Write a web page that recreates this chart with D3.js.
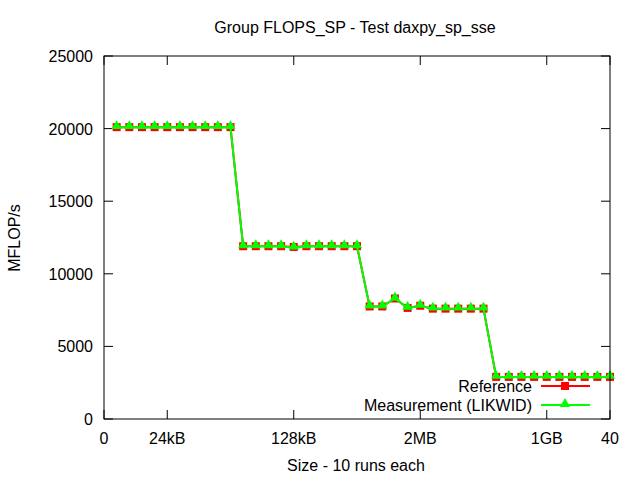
<!DOCTYPE html>
<html><head><meta charset="utf-8">
<script src="https://cdn.jsdelivr.net/npm/d3@7"></script>
<style>body{margin:0;background:#fff}svg{display:block}text{font-family:"Liberation Sans",Arial,sans-serif;font-size:16px;fill:#000}</style>
</head><body>
<script>
const sizes = d3.range(1, 41);
const reference = [20100,20100,20100,20100,20100,20100,20100,20100,20100,20100,
  11900,11900,11900,11900,11850,11900,11900,11900,11900,11900,
  7750,7750,8300,7650,7800,7600,7600,7600,7600,7600,
  2900,2900,2900,2900,2900,2900,2900,2900,2900,2900];
const measurement = [20100,20100,20100,20100,20100,20100,20100,20100,20100,20100,
  11900,11900,11900,11900,11800,11900,11900,11900,11900,11900,
  7750,7750,8300,7650,7800,7600,7600,7600,7600,7600,
  2900,2900,2900,2900,2900,2900,2900,2900,2900,2900];
const xTickVals = [0,5,15,25,35,40];
const xTickLabels = ["0","24kB","128kB","2MB","1GB","40"];
const yTickVals = [0,5000,10000,15000,20000,25000];

const W=640,H=480, L=104, R=610, T=56, B=419;
const svg=d3.select("body").append("svg").attr("width",W).attr("height",H);
const x=d3.scaleLinear().domain([0,40]).range([L,R]);
const y=d3.scaleLinear().domain([0,25000]).range([B,T]);
const tl=9;
const g=svg.append("g").attr("stroke","#000").attr("stroke-width",1);
yTickVals.forEach(v=>{
  g.append("line").attr("x1",L).attr("x2",L+tl).attr("y1",y(v)).attr("y2",y(v));
  g.append("line").attr("x1",R).attr("x2",R-tl).attr("y1",y(v)).attr("y2",y(v));
});
xTickVals.forEach(v=>{
  g.append("line").attr("x1",x(v)).attr("x2",x(v)).attr("y1",B).attr("y2",B-tl);
  g.append("line").attr("x1",x(v)).attr("x2",x(v)).attr("y1",T).attr("y2",T+tl);
});
svg.selectAll(".yl").data(yTickVals).join("text").attr("x",L-11).attr("y",d=>y(d)+6)
  .attr("text-anchor","end").text(d=>d);
svg.selectAll(".xl").data(xTickVals).join("text").attr("x",d=>x(d)).attr("y",B+25)
  .attr("text-anchor","middle").text((d,i)=>xTickLabels[i]);
svg.append("text").attr("x",355).attr("y",33).attr("text-anchor","middle").text("Group FLOPS_SP - Test daxpy_sp_sse");
svg.append("text").attr("x",356).attr("y",471).attr("text-anchor","middle").text("Size - 10 runs each");
svg.append("text").attr("transform","translate(20,238) rotate(-90)").attr("text-anchor","middle").text("MFLOP/s");

const line=d3.line().x((d,i)=>x(sizes[i])).y(d=>y(d));
svg.append("path").datum(reference).attr("d",line).attr("fill","none").attr("stroke","#ff0000").attr("stroke-width",2);
svg.selectAll(".sq").data(reference).join("rect").attr("x",(d,i)=>x(sizes[i])-4).attr("y",d=>y(d)-4)
  .attr("width",8).attr("height",8).attr("fill","#ff0000");
svg.append("path").datum(measurement).attr("d",line).attr("fill","none").attr("stroke","#00ff00").attr("stroke-width",2);
const tri=d3.symbol().type(d3.symbolTriangle).size(45);
svg.selectAll(".tr").data(measurement).join("path").attr("d",tri)
  .attr("transform",(d,i)=>`translate(${x(sizes[i])},${y(d)-1})`).attr("fill","#00ff00");

const lg=[{n:"Reference",c:"#ff0000",m:"sq",yy:386},{n:"Measurement (LIKWID)",c:"#00ff00",m:"tr",yy:405}];
lg.forEach(e=>{
  svg.append("text").attr("x",532).attr("y",e.yy+6).attr("text-anchor","end").text(e.n);
  svg.append("line").attr("x1",541).attr("x2",590).attr("y1",e.yy).attr("y2",e.yy).attr("stroke",e.c).attr("stroke-width",2);
  if(e.m==="sq") svg.append("rect").attr("x",561).attr("y",e.yy-4).attr("width",8).attr("height",8).attr("fill",e.c);
  else svg.append("path").attr("d",tri).attr("transform",`translate(565,${e.yy-1})`).attr("fill",e.c);
});
svg.append("rect").attr("x",L).attr("y",T).attr("width",R-L).attr("height",B-T).attr("fill","none").attr("stroke","#000").attr("stroke-width",1);
</script>
</body></html>
